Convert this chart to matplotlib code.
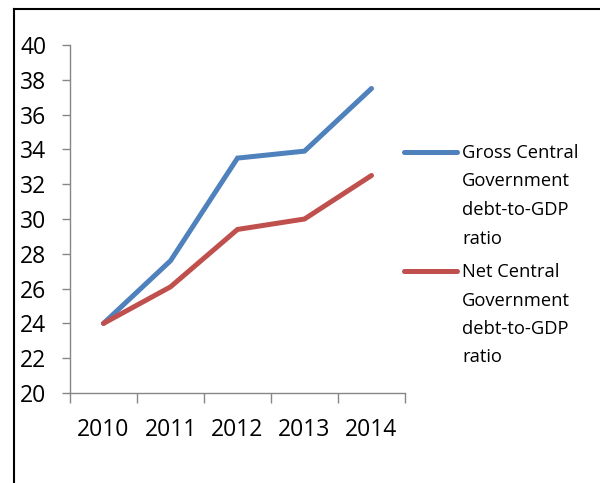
import matplotlib.pyplot as plt
from matplotlib.lines import Line2D

years = ['2010', '2011', '2012', '2013', '2014']
gross_debt = [24.0, 27.6, 33.5, 33.9, 37.5]
net_debt = [24.0, 26.1, 29.4, 30.0, 32.5]
series_labels = ['Gross Central\nGovernment\ndebt-to-GDP\nratio',
                 'Net Central\nGovernment\ndebt-to-GDP\nratio']
blue = '#4F81BD'
red = '#C0504D'
axis_grey = '#868686'

plt.rcParams['font.family'] = ['Open Sans', 'DejaVu Sans']

W, H = 600, 483
fig = plt.figure(figsize=(6, 4.83), dpi=100)
ax = fig.add_axes([70/W, 1-393/H, (405-70)/W, (393-45)/H])

x = range(len(years))
ax.plot(x, gross_debt, color=blue, lw=3.6, solid_capstyle='round', solid_joinstyle='miter')
ax.plot(x, net_debt, color=red, lw=3.6, solid_capstyle='round', solid_joinstyle='miter')

ax.set_xlim(-0.5, len(years) - 0.5)
ax.set_ylim(20, 40)
ax.set_yticks(range(20, 41, 2))
ax.tick_params(axis='y', length=6, width=1, color=axis_grey, pad=11, labelsize=16.5)
ax.set_xticks([i - 0.5 for i in range(len(years) + 1)])
ax.set_xticklabels([])
ax.set_xticks(list(x), minor=True)
ax.set_xticklabels(years, minor=True)
ax.tick_params(axis='x', which='major', length=7, width=1, color=axis_grey, direction='out')
ax.tick_params(axis='x', which='minor', length=0, pad=18, labelsize=16.5)

for side in ['top', 'right']:
    ax.spines[side].set_visible(False)
for side in ['left', 'bottom']:
    ax.spines[side].set_color(axis_grey)
    ax.spines[side].set_linewidth(1)

# legend drawn by hand so the line sits beside the first text row
for lbl, col, ypix in zip(series_labels, [blue, red], [152, 271]):
    fig.add_artist(Line2D([404/W, 457/W], [1-ypix/H, 1-ypix/H], color=col, lw=3.6,
                          solid_capstyle='round', transform=fig.transFigure))
    fig.text(462/W, 1-(ypix-8)/H, lbl, fontsize=13.2, va='top', ha='left',
             linespacing=1.75, transform=fig.transFigure)

# outer frame: top and left edges only
fig.add_artist(Line2D([14/W, 1], [1-8.5/H, 1-8.5/H], color='black', lw=1.5, transform=fig.transFigure))
fig.add_artist(Line2D([14/W, 14/W], [0, 1-8.5/H], color='black', lw=1.5, transform=fig.transFigure))

fig.savefig('out.png', dpi=100)
